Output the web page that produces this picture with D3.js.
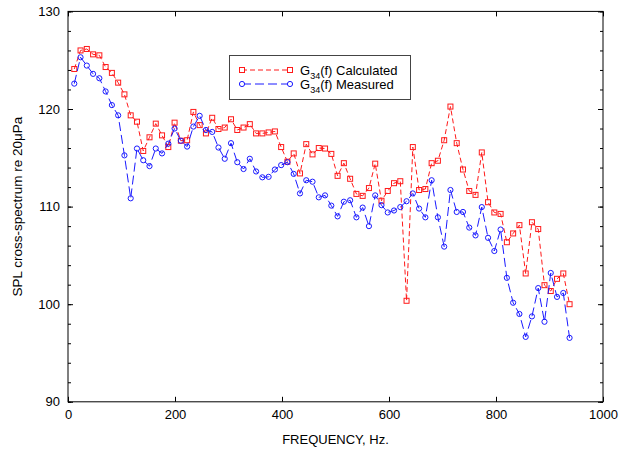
<!DOCTYPE html>
<html>
<head>
<meta charset="utf-8">
<script src="https://cdn.jsdelivr.net/npm/d3@7"></script>
<style>
  body { margin: 0; background: #fff; }
  text { font-family: Arial, "Liberation Sans", sans-serif; }
</style>
</head>
<body>
<svg id="chart" width="628" height="453"></svg>
<script>
// frequency resolution 12000/1024 Hz, bins 1..80
const binIndex = d3.range(1, 81);
const binWidthHz = 11.71875;
const calculated = [
  124.1, 126.0, 126.15, 125.6, 125.5, 124.3, 123.7, 122.7, 121.5, 119.35,
  118.7, 115.7, 117.1, 118.5, 117.3, 116.1, 118.6, 116.75, 116.8, 119.7,
  118.35, 117.5, 119.1, 117.95, 118.1, 118.95, 117.85, 118.1, 118.45, 117.5,
  117.5, 117.6, 117.7, 116.1, 114.6, 115.45, 113.4, 116.4, 115.35, 116.0,
  115.95, 115.4, 113.15, 114.45, 112.85, 111.3, 111.1, 111.9, 114.4, 110.6,
  111.6, 112.4, 112.6, 100.35, 116.1, 111.7, 111.8, 114.45, 114.7, 116.8,
  120.25, 116.5, 113.8, 111.6, 111.2, 115.55, 110.45, 109.4, 109.25, 106.35,
  107.25, 108.1, 103.15, 108.4, 107.7, 101.95, 101.35, 102.6, 103.15, 100.0
];
const measured = [
  122.6, 125.3, 124.45, 123.6, 123.15, 121.8, 120.4, 119.35, 115.25, 110.85,
  115.95, 114.75, 114.15, 115.95, 115.45, 116.45, 118.0, 116.75, 116.15, 118.2,
  119.3, 117.85, 117.65, 116.05, 114.9, 116.5, 114.55, 113.85, 114.9, 113.6,
  113.0, 113.05, 113.8, 114.25, 114.55, 113.35, 111.35, 112.7, 112.55, 110.95,
  111.15, 110.1, 109.0, 110.5, 110.65, 108.9, 109.9, 108.0, 111.15, 110.15,
  109.4, 109.6, 109.95, 110.55, 111.35, 109.8, 108.9, 112.7, 108.9, 105.9,
  111.7, 109.45, 109.45, 107.85, 107.05, 109.95, 106.8, 105.45, 107.65, 102.7,
  100.15, 99.0, 96.65, 98.75, 101.65, 98.2, 103.2, 100.75, 101.15, 96.55
];
const xTicks = [0, 200, 400, 600, 800, 1000];
const yTicks = [90, 100, 110, 120, 130];
const yMinorTicks = d3.range(90, 131, 2);
const xLabel = "FREQUENCY, Hz.";
const yLabel = "SPL cross-spectrum re 20\u03BCPa";
const seriesNames = ["Calculated", "Measured"];

const freqs = binIndex.map(k => k * binWidthHz);

const svg = d3.select("#chart");
const L = 68, R = 603, T = 11.4, B = 401.8;
const x = d3.scaleLinear().domain([0, 1000]).range([L, R]);
const y = d3.scaleLinear().domain([90, 130]).range([B, T]);

// frame
svg.append("rect").attr("x", L).attr("y", T).attr("width", R - L).attr("height", B - T)
  .attr("fill", "none").attr("stroke", "#000").attr("stroke-width", 1);

// axes with inward ticks
const axB = svg.append("g").attr("transform", `translate(0,${B})`)
  .call(d3.axisBottom(x).tickValues(xTicks).tickSizeInner(-5).tickSizeOuter(0).tickPadding(8).tickFormat(d3.format("d")));
const axT = svg.append("g").attr("transform", `translate(0,${T})`)
  .call(d3.axisTop(x).tickValues(xTicks).tickSizeInner(-5).tickSizeOuter(0).tickFormat(""));
const axLm = svg.append("g").attr("transform", `translate(${L},0)`)
  .call(d3.axisLeft(y).tickValues(yMinorTicks).tickSizeInner(-3).tickSizeOuter(0).tickFormat(""));
const axL = svg.append("g").attr("transform", `translate(${L},0)`)
  .call(d3.axisLeft(y).tickValues(yTicks).tickSizeInner(-5).tickSizeOuter(0).tickPadding(8).tickFormat(d3.format("d")));
const axRm = svg.append("g").attr("transform", `translate(${R},0)`)
  .call(d3.axisRight(y).tickValues(yMinorTicks).tickSizeInner(-3).tickSizeOuter(0).tickFormat(""));
const axR = svg.append("g").attr("transform", `translate(${R},0)`)
  .call(d3.axisRight(y).tickValues(yTicks).tickSizeInner(-5).tickSizeOuter(0).tickFormat(""));
[axB, axT, axLm, axL, axRm, axR].forEach(g => {
  g.select(".domain").remove();
  g.selectAll("text").attr("font-size", 13).attr("fill", "#000")
    .attr("font-family", "Arial, 'Liberation Sans', sans-serif");
  g.selectAll("line").attr("stroke", "#000");
});

// axis titles
svg.append("text").attr("x", (L + R) / 2).attr("y", 444).attr("text-anchor", "middle")
  .attr("font-size", 13).text(xLabel);
svg.append("text").attr("transform", `translate(22,${(T + B) / 2}) rotate(-90)`)
  .attr("text-anchor", "middle").attr("font-size", 13.5).text(yLabel);

const red = "#ff1a1a", blue = "#1a1aff";
const line = d3.line().x((d, i) => x(freqs[i])).y(d => y(d));

// calculated
svg.append("path").datum(calculated).attr("d", line).attr("fill", "none")
  .attr("stroke", red).attr("stroke-width", 1).attr("stroke-dasharray", "5,3");
svg.append("g").selectAll("rect").data(calculated).join("rect")
  .attr("x", (d, i) => x(freqs[i]) - 2.5).attr("y", d => y(d) - 2.5)
  .attr("width", 5).attr("height", 5).attr("fill", "none").attr("stroke", red).attr("stroke-width", 1);

// measured
svg.append("path").datum(measured).attr("d", line).attr("fill", "none")
  .attr("stroke", blue).attr("stroke-width", 1).attr("stroke-dasharray", "9,4");
svg.append("g").selectAll("circle").data(measured).join("circle")
  .attr("cx", (d, i) => x(freqs[i])).attr("cy", d => y(d)).attr("r", 2.6)
  .attr("fill", "none").attr("stroke", blue).attr("stroke-width", 1);

// legend
const lg = svg.append("g");
lg.append("rect").attr("x", 229.5).attr("y", 55.5).attr("width", 181).attr("height", 44)
  .attr("fill", "#fff").attr("stroke", "#444").attr("stroke-width", 1);
const items = [
  {name: seriesNames[0], color: red, dash: "5,3", y: 70, marker: "sq"},
  {name: seriesNames[1], color: blue, dash: "9,4", y: 84, marker: "ci"}
];
items.forEach(it => {
  lg.append("line").attr("x1", 242).attr("x2", 290).attr("y1", it.y).attr("y2", it.y)
    .attr("stroke", it.color).attr("stroke-dasharray", it.dash);
  [242, 290].forEach(px => {
    if (it.marker === "sq") {
      lg.append("rect").attr("x", px - 2.5).attr("y", it.y - 2.5).attr("width", 5).attr("height", 5)
        .attr("fill", "#fff").attr("stroke", it.color);
    } else {
      lg.append("circle").attr("cx", px).attr("cy", it.y).attr("r", 2.6)
        .attr("fill", "#fff").attr("stroke", it.color);
    }
  });
  const t = lg.append("text").attr("x", 300).attr("y", it.y + 5).attr("font-size", 13);
  t.append("tspan").text("G");
  t.append("tspan").attr("dy", 4).attr("font-size", 9).text("34");
  t.append("tspan").attr("dy", -4).text("(f) " + it.name);
});
</script>
</body>
</html>
